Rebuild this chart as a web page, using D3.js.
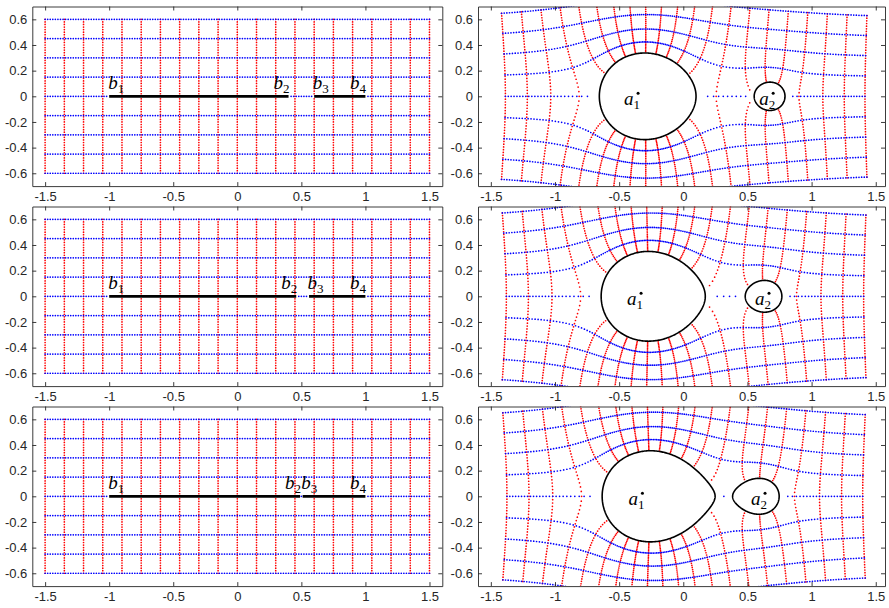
<!DOCTYPE html>
<html>
<head>
<meta charset="utf-8">
<script src="https://cdn.jsdelivr.net/npm/d3@7"></script>
<style>
body { margin: 0; background: #fff; }
.lbl { font-family: "Liberation Serif", "DejaVu Serif", serif; font-style: italic; font-size: 19px; fill: #000; }
</style>
</head>
<body>
<div id="chart"></div>
<script>
// tick labels
const xTicks = [-1.5, -1, -0.5, 0, 0.5, 1, 1.5];
const yTicks = [-0.6, -0.4, -0.2, 0, 0.2, 0.4, 0.6];
// the grid in the slit plane (red = vertical lines, blue = horizontal lines)
const gridX = [-1.5, -1.35, -1.2, -1.05, -0.9, -0.75, -0.6, -0.45, -0.3, -0.15, 0,
               0.15, 0.3, 0.45, 0.6, 0.75, 0.9, 1.05, 1.2, 1.35, 1.5];
const gridY = [-0.6, -0.45, -0.3, -0.15, 0, 0.15, 0.3, 0.45, 0.6];
// slit end points b1..b4 for each row
const slitsTop    = [-1, 0.4, 0.6, 1];
const slitsMiddle = [-1, 0.46, 0.56, 1];
const slitsBottom = [-1, 0.49, 0.51, 1];
const rows = [slitsTop, slitsMiddle, slitsBottom];
// each grid line is sampled with this step and drawn as dots
const sampleStep = 0.02;

const W = 889, H = 608;
const rowTops = [6.5, 206.5, 406.5], panelH = 179.6;
const leftRange = [32.3, 442.3], rightRange = [478, 885];
const leftDom = [-1.6, 1.6], rightDom = [-1.6, 1.572];

const xs = d3.range(Math.round(3 / sampleStep) + 1).map(i => +(-1.5 + i * sampleStep).toFixed(4));
const ys = d3.range(Math.round(1.2 / sampleStep) + 1).map(j => +(-0.6 + j * sampleStep).toFixed(4));
const key = v => Math.round(v * 1e4);

// ---- complex helpers
const cmul = (a, b) => [a[0]*b[0] - a[1]*b[1], a[0]*b[1] + a[1]*b[0]];
const cdiv = (a, b) => { const d = b[0]*b[0] + b[1]*b[1]; return [(a[0]*b[0] + a[1]*b[1]) / d, (a[1]*b[0] - a[0]*b[1]) / d]; };
const csqrt = a => {
  const r = Math.hypot(a[0], a[1]);
  const re = Math.sqrt(Math.max(0, (r + a[0]) / 2));
  let im = Math.sqrt(Math.max(0, (r - a[0]) / 2));
  if (a[1] < 0) im = -im;
  return [re, im];
};
function simpson(f, a, b, n) {
  const h = (b - a) / n;
  let s = f(a) + f(b);
  for (let i = 1; i < n; i++) s += f(a + i * h) * (i % 2 ? 4 : 2);
  return s * h / 3;
}
const onSlit = (x, b) => (x >= b[0] - 1e-9 && x <= b[1] + 1e-9) || (x >= b[2] - 1e-9 && x <= b[3] + 1e-9);

// parameters of Walsh's lemniscatic domain for two real intervals
function walshParams(b) {
  const [b1, b2, b3, b4] = b, N = 2000;
  const gt = th => (b2 + b3) / 2 - (b3 - b2) / 2 * Math.cos(th);
  const w0 = simpson(th => 1 / Math.sqrt((gt(th) - b1) * (b4 - gt(th))), 0, Math.PI, N);
  const w1 = simpson(th => gt(th) / Math.sqrt((gt(th) - b1) * (b4 - gt(th))), 0, Math.PI, N);
  const c = w1 / w0;
  const it = th => (b1 + b2) / 2 - (b2 - b1) / 2 * Math.cos(th);
  const m1 = simpson(th => { const t = it(th); return Math.abs(t - c) / Math.sqrt((b3 - t) * (b4 - t)); }, 0, Math.PI, N) / Math.PI;
  const m2 = 1 - m1;
  const gc = simpson(u => { const t = b2 + u * u; return 2 * (c - t) / Math.sqrt((t - b1) * (b3 - t) * (b4 - t)); }, 0, Math.sqrt(c - b2), N);
  const logCap = Math.log(b4) + simpson(u => {
    if (u >= 1) return 0;
    const s = u / (1 - u), t = b4 + s * s;
    const f = 2 * s / t - 2 * (t - c) / Math.sqrt((t - b1) * (t - b2) * (t - b3));
    return f / ((1 - u) * (1 - u));
  }, 0, 1, 20000);
  const S = (b1 + b2 + b3 + b4) / 2 - c;
  const D = Math.exp(logCap + gc) / (Math.pow(m1, m1) * Math.pow(m2, m2));
  const a1 = S - m2 * D, a2 = S + m1 * D;
  return {c, m1, m2, a1, a2, ws: m1 * a2 + m2 * a1};
}

// the map, integrated down vertical paths from far above
function makeMap(b, P) {
  const dG = z => {
    let s = [1, 0];
    for (const bk of b) s = cmul(s, csqrt([z[0] - bk, z[1]]));
    return cdiv([z[0] - P.c, z[1]], s);
  };
  const f = (x, y, w) => {
    const num = cmul([w[0] - P.a1, w[1]], [w[0] - P.a2, w[1]]);
    const r = cmul(dG([x, y]), cdiv(num, [w[0] - P.ws, w[1]]));
    return [-r[1], r[0]];
  };
  const step = (x, y, w, h) => {
    const k1 = f(x, y, w);
    const k2 = f(x, y + h / 2, [w[0] + h / 2 * k1[0], w[1] + h / 2 * k1[1]]);
    const k3 = f(x, y + h / 2, [w[0] + h / 2 * k2[0], w[1] + h / 2 * k2[1]]);
    const k4 = f(x, y + h, [w[0] + h * k3[0], w[1] + h * k3[1]]);
    return [w[0] + h / 6 * (k1[0] + 2*k2[0] + 2*k3[0] + k4[0]), w[1] + h / 6 * (k1[1] + 2*k2[1] + 2*k3[1] + k4[1])];
  };
  // targets: descending y values, 0 means "down to the real axis"
  return function column(x, targets) {
    let y = 100, w = [x, 100];
    while (y > 1) { const yn = Math.max(1, y * 0.9); w = step(x, y, w, yn - y); y = yn; }
    const out = [];
    for (const yt of targets) {
      if (yt > 0) {
        const n = Math.max(1, Math.ceil((y - yt) / 0.005)), h = (yt - y) / n;
        for (let i = 0; i < n; i++) { w = step(x, y, w, h); y += h; }
        y = yt;
      } else {
        while (y > 1e-8) { const yn = y * 0.8; w = step(x, y, w, yn - y); y = yn; }
      }
      out.push(w);
    }
    return out;
  };
}

const svg = d3.select("#chart").append("svg").attr("width", W).attr("height", H);

function drawAxes(g, x, y) {
  const style = sel => {
    sel.attr("font-size", 13).attr("font-family", '"Liberation Sans", Arial, sans-serif');
    sel.selectAll("path.domain").attr("stroke", "#262626").attr("stroke-width", 0.9);
    sel.selectAll(".tick line").attr("stroke", "#262626").attr("stroke-width", 0.9);
    sel.selectAll(".tick text").attr("fill", "#262626");
  };
  g.append("g").attr("transform", `translate(0,${y.range()[0]})`)
    .call(d3.axisBottom(x).tickValues(xTicks).tickFormat(d => String(d)).tickSizeInner(-4).tickSizeOuter(0).tickPadding(6)).call(style);
  g.append("g").attr("transform", `translate(0,${y.range()[1]})`)
    .call(d3.axisTop(x).tickValues(xTicks).tickFormat("").tickSizeInner(-4).tickSizeOuter(0)).call(style);
  g.append("g").attr("transform", `translate(${x.range()[0]},0)`)
    .call(d3.axisLeft(y).tickValues(yTicks).tickFormat(d => String(d)).tickSizeInner(-4).tickSizeOuter(0).tickPadding(5)).call(style);
  g.append("g").attr("transform", `translate(${x.range()[1]},0)`)
    .call(d3.axisRight(y).tickValues(yTicks).tickFormat("").tickSizeInner(-4).tickSizeOuter(0)).call(style);
}

function label(g, px, py, anchor, letter, idx) {
  const t = g.append("text").attr("class", "lbl").attr("x", px).attr("y", py).attr("text-anchor", anchor);
  t.append("tspan").text(letter);
  t.append("tspan").attr("font-size", 13).attr("font-style", "normal").attr("dy", 4).text(idx);
}

rows.forEach((b, r) => {
  const y = d3.scaleLinear().domain([-0.7, 0.7]).range([rowTops[r] + panelH, rowTops[r]]);
  const xl = d3.scaleLinear().domain(leftDom).range(leftRange);
  const xr = d3.scaleLinear().domain(rightDom).range(rightRange);

  // sample points of the grid
  const pts = [];
  gridX.forEach(xv => ys.forEach(yv => { if (!(yv === 0 && onSlit(xv, b))) pts.push({x: xv, y: yv, c: "#ff0000"}); }));
  gridY.forEach(yv => xs.forEach(xv => { if (!(yv === 0 && onSlit(xv, b))) pts.push({x: xv, y: yv, c: "#0000ff"}); }));

  // ---- left panel: slit plane
  const gl = svg.append("g");
  gl.append("clipPath").attr("id", "clipL" + r).append("rect")
    .attr("x", leftRange[0]).attr("y", rowTops[r]).attr("width", leftRange[1] - leftRange[0]).attr("height", panelH);
  const dl = gl.append("g").attr("clip-path", `url(#clipL${r})`);
  dl.selectAll("circle").data(pts)
    .join("circle").attr("cx", d => xl(d.x)).attr("cy", d => y(d.y)).attr("r", 0.85).attr("fill", d => d.c);
  [[b[0], b[1]], [b[2], b[3]]].forEach(s => {
    dl.append("line").attr("x1", xl(s[0])).attr("x2", xl(s[1])).attr("y1", y(0)).attr("y2", y(0))
      .attr("stroke", "#000").attr("stroke-width", 2.8);
  });
  drawAxes(gl, xl, y);
  label(gl, xl(b[0]) - 1, y(0) - 7, "start", "b", "1");
  label(gl, xl(b[1]) + 1, y(0) - 7, "end", "b", "2");
  label(gl, xl(b[2]) - 1.5, y(0) - 7, "start", "b", "3");
  label(gl, xl(b[3]) + 0.5, y(0) - 7, "end", "b", "4");

  // ---- right panel: lemniscatic domain
  const P = walshParams(b);
  const column = makeMap(b, P);
  const posY = Array.from(new Set(ys.filter(v => v > 0).concat(gridY.filter(v => v > 0)).map(key)))
    .sort((a, c) => c - a).map(k => k / 1e4);
  const cols = new Map();
  Array.from(new Set(xs.concat(gridX).map(key))).forEach(kx => {
    const xv = kx / 1e4;
    const targets = onSlit(xv, b) ? posY : posY.concat([0]);
    const res = column(xv, targets);
    const m = new Map();
    targets.forEach((t, i) => m.set(key(t), res[i]));
    cols.set(kx, m);
  });
  const phi = (xv, yv) => {
    const w = cols.get(key(xv)).get(key(Math.abs(yv)));
    if (yv === 0) return [w[0], 0];
    return yv < 0 ? [w[0], -w[1]] : w;
  };
  const mapped = pts.map(p => { const w = phi(p.x, p.y); return {u: w[0], v: w[1], c: p.c}; });

  const gr = svg.append("g");
  gr.append("clipPath").attr("id", "clipR" + r).append("rect")
    .attr("x", rightRange[0]).attr("y", rowTops[r]).attr("width", rightRange[1] - rightRange[0]).attr("height", panelH);
  const dr = gr.append("g").attr("clip-path", `url(#clipR${r})`);
  dr.selectAll("circle").data(mapped)
    .join("circle").attr("cx", d => xr(d.u)).attr("cy", d => y(d.v)).attr("r", 0.85).attr("fill", d => d.c);

  // hole boundaries = images of the two slits (upper side -> upper half)
  [[b[0], b[1]], [b[2], b[3]]].forEach(s => {
    const n = 150, up = [];
    for (let i = 0; i <= n; i++) {
      let xv = (s[0] + s[1]) / 2 - (s[1] - s[0]) / 2 * Math.cos(Math.PI * i / n);
      xv = Math.min(Math.max(xv, s[0] + 1e-9), s[1] - 1e-9);
      up.push(column(xv, [0])[0]);
    }
    up[0] = [up[0][0], 0];
    up[n] = [up[n][0], 0];
    const ring = up.concat(up.slice(1, n).reverse().map(w => [w[0], -w[1]]));
    dr.append("path").datum(ring)
      .attr("d", d3.line().x(d => xr(d[0])).y(d => y(d[1])).curve(d3.curveLinearClosed))
      .attr("fill", "#fff").attr("stroke", "#000").attr("stroke-width", 1.6);
  });
  [P.a1, P.a2].forEach((a, j) => {
    gr.append("circle").attr("cx", xr(a)).attr("cy", y(0) - 3).attr("r", 1.5).attr("fill", "#000");
    label(gr, xr(a) + 2, y(0) + 9, "end", "a", String(j + 1));
  });
  drawAxes(gr, xr, y);
});
</script>
</body>
</html>
